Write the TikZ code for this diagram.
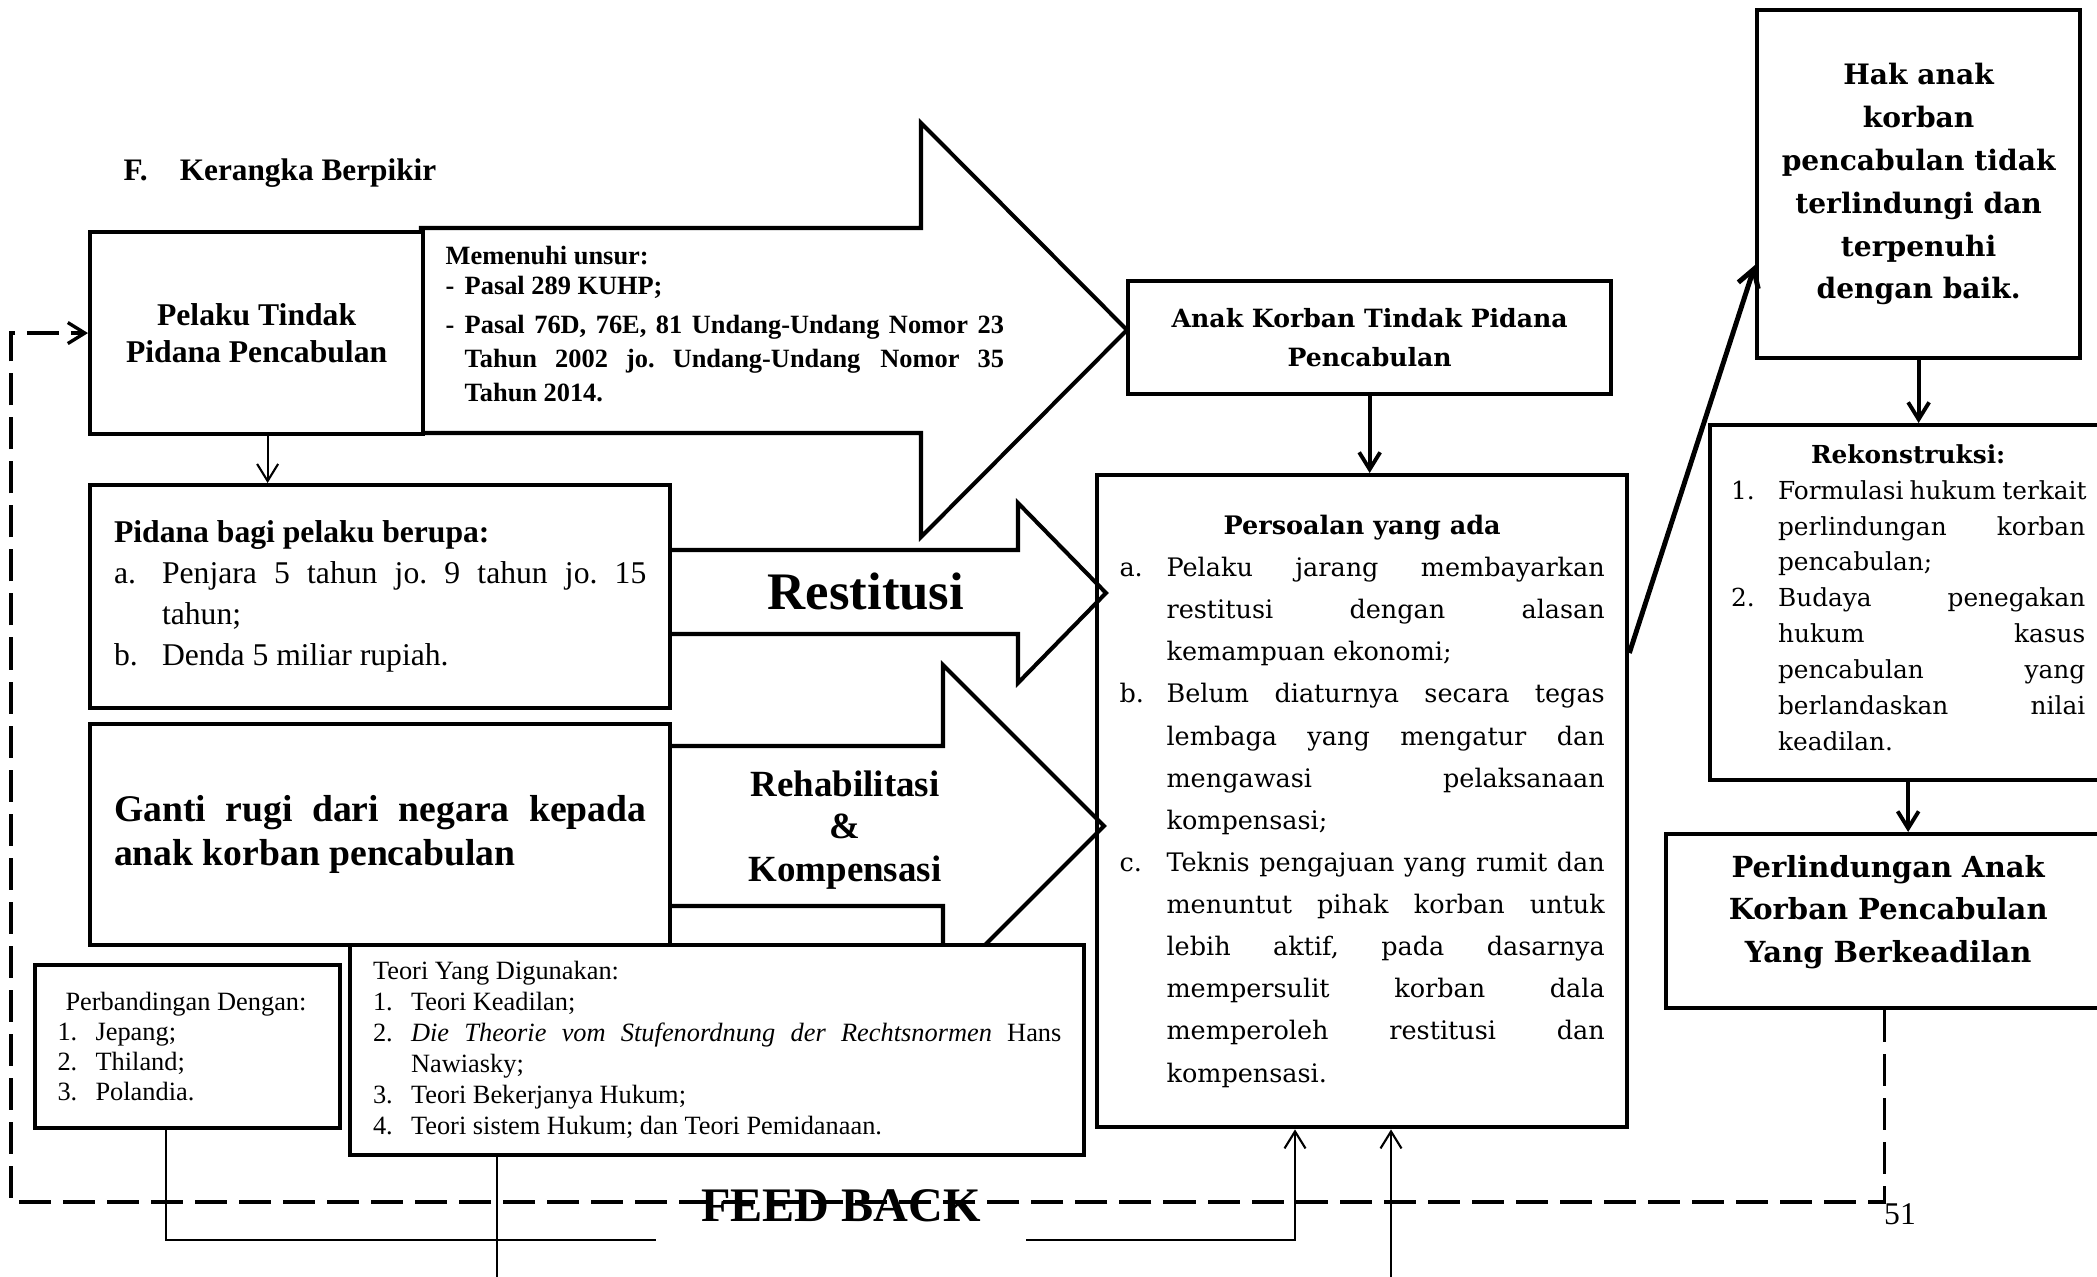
\documentclass[tikz,border=0pt]{standalone}
\usepackage{fontspec}
\setmainfont{Liberation Serif}
\newfontfamily\bkfont{DejaVu Serif}
\usetikzlibrary{arrows.meta,calc}

% one line of a list, stretched to the full width
\newcommand{\jline}[2][0pt]{\hbox to\linewidth{\frenchspacing\hskip#1\relax\spaceskip=.25em plus 1fil\relax\xspaceskip=\spaceskip#2}}
% last line of a paragraph, set flush left
\newcommand{\lline}[2][0pt]{\hbox to\linewidth{\hskip#1\relax#2\hfil}}
% centred line
\newcommand{\mline}[1]{\hbox to\linewidth{\hfil#1\hfil}}
% item label of fixed width
\newcommand{\lbl}[2]{\hbox to#1{#2\hfil}}
% lift a text block without changing its size
\newcommand{\lift}[2]{\raisebox{#1}[\height][\depth]{#2}}

\begin{document}
\begin{tikzpicture}[x=0.01cm, y=-0.01cm,
    box/.style={draw, line width=1.15pt, fill=white, anchor=north west, inner sep=0pt},
    blockarrow/.style={draw, line width=1.15pt, fill=white, line join=miter},
    link/.style={line width=0.6pt},
    boldlink/.style={line width=1.1pt},
    feedback/.style={line width=0.95pt, dash pattern=on 3.2mm off 1.2mm},
    >={Straight Barb[length=1.7mm,width=2.1mm]}]

    \useasboundingbox (0,0) rectangle (2097,1277);

    % Block arrows (drawn first, boxes sit on top)
    \draw[blockarrow] (421,228) -- (921,228) -- (921,123) -- (1127,330) -- (921,537) -- (921,433) -- (421,433) -- cycle;
    \draw[blockarrow] (667,550) -- (1018,550) -- (1018,503) -- (1106,593) -- (1018,683) -- (1018,634) -- (667,634) -- cycle;
    \draw[blockarrow] (667,746) -- (943,746) -- (943,665) -- (1104,826) -- (943,987) -- (943,906) -- (667,906) -- cycle;

    % Heading
    \node[anchor=base west, inner sep=0pt, font=\fontsize{8.9}{10}\selectfont\bfseries] (title) at (123,181) {F.\hspace{3.2mm}Kerangka Berpikir};

    % Left column
    \node[box, minimum width=3.33cm, minimum height=2.02cm, align=center, font=\fontsize{9}{10.5}\selectfont\bfseries] (pelaku) at (88,230) {Pelaku Tindak\\Pidana Pencabulan};

    \node[box, minimum width=5.80cm, minimum height=2.23cm, font=\fontsize{9}{11.7}\selectfont] (pidana) at (88,483) {\parbox{53.2mm}{%
        \lline{\bfseries Pidana bagi pelaku berupa:}
        \jline{\lbl{4.8mm}{a.}Penjara 5 tahun jo. 9 tahun jo. 15}
        \lline[4.8mm]{tahun;}
        \lline{\lbl{4.8mm}{b.}Denda 5 miliar rupiah.}}};

    \node[box, minimum width=5.80cm, minimum height=2.21cm, font=\fontsize{10.7}{12.5}\selectfont\bfseries] (ganti) at (88,722) {\parbox{53.2mm}{%
        \jline{Ganti rugi dari negara kepada}
        \lline{anak korban pencabulan}}};

    \node[box, minimum width=3.05cm, minimum height=1.63cm, font=\fontsize{7.5}{8.6}\selectfont] (perb) at (33,963) {\parbox{26mm}{%
        \lline[0.8mm]{Perbandingan Dengan:}
        \lline{\lbl{3.8mm}{1.}Jepang;}
        \lline{\lbl{3.8mm}{2.}Thiland;}
        \lline{\lbl{3.8mm}{3.}Polandia.}}};

    \node[box, minimum width=7.34cm, minimum height=2.10cm, font=\fontsize{7.5}{8.8}\selectfont] (teori) at (348,943) {\parbox{68.8mm}{%
        \lline{Teori Yang Digunakan:}
        \lline{\lbl{3.8mm}{1.}Teori Keadilan;}
        \jline{\lbl{3.8mm}{2.}\itshape Die Theorie vom Stufenordnung der Rechtsnormen \upshape Hans}
        \lline[3.8mm]{Nawiasky;}
        \lline{\lbl{3.8mm}{3.}Teori Bekerjanya Hukum;}
        \lline{\lbl{3.8mm}{4.}Teori sistem Hukum; dan Teori Pemidanaan.}}};

    % Texts in the block arrows
    \node[anchor=base west, inner sep=0pt, font=\fontsize{7.5}{9.67}\selectfont\bfseries] (unsur) at (445,265) {\parbox[t]{55.8mm}{%
        \lline{Memenuhi unsur:}\vskip-0.4mm\relax
        \lline{\lbl{1.9mm}{-}Pasal 289 KUHP;}\vskip0.4mm\relax
        \jline{\lbl{1.9mm}{-}Pasal 76D, 76E, 81 Undang-Undang Nomor 23}
        \jline[1.9mm]{Tahun 2002 jo. Undang-Undang\hskip2mm Nomor 35}
        \lline[1.9mm]{Tahun 2014.}}};
    \node[anchor=base, inner sep=0pt, font=\fontsize{15}{18}\selectfont\bfseries] (restitusi) at (866,610) {Restitusi};
    \node[align=center, inner sep=0pt, font=\fontsize{10.5}{12.1}\selectfont\bfseries] (rehab) at (845,830) {Rehabilitasi\\\&\\Kompensasi};

    % Middle column
    \node[box, minimum width=4.83cm, minimum height=1.13cm, align=center, font=\bkfont\fontsize{7.15}{11.1}\selectfont\bfseries] (anak) at (1126,279) {Anak Korban Tindak Pidana\\Pencabulan};

    \node[box, fill=none, minimum width=5.30cm, minimum height=6.52cm, font=\bkfont\fontsize{7.25}{11.98}\selectfont] (persoalan) at (1095,473) {\parbox{48.5mm}{%
        \mline{\bfseries Persoalan yang ada}
        \jline{\lbl{4.7mm}{a.}Pelaku jarang membayarkan}
        \jline[4.7mm]{restitusi dengan alasan}
        \lline[4.7mm]{kemampuan ekonomi;}
        \jline{\lbl{4.7mm}{b.}Belum diaturnya secara tegas}
        \jline[4.7mm]{lembaga yang mengatur dan}
        \jline[4.7mm]{mengawasi pelaksanaan}
        \lline[4.7mm]{kompensasi;}
        \jline{\lbl{4.7mm}{c.}Teknis pengajuan yang rumit dan}
        \jline[4.7mm]{menuntut pihak korban untuk}
        \jline[4.7mm]{lebih aktif, pada dasarnya}
        \jline[4.7mm]{mempersulit korban dala}
        \jline[4.7mm]{memperoleh restitusi dan}
        \lline[4.7mm]{kompensasi.}}};

    % Right column
    \node[box, minimum width=3.23cm, minimum height=3.48cm, align=center, font=\bkfont\fontsize{8}{12.2}\selectfont\bfseries] (hak) at (1755,8) {Hak anak\\korban\\pencabulan tidak\\terlindungi dan\\terpenuhi\\dengan baik.};

    \node[box, minimum width=3.96cm, minimum height=3.55cm, font=\bkfont\fontsize{7.05}{10.2}\selectfont] (rekon) at (1708,423) {\lift{0.5mm}{\parbox{35.4mm}{%
        \mline{\bfseries Rekonstruksi:}
        \jline{\lbl{4.7mm}{1.}Formulasi hukum terkait}
        \jline[4.7mm]{perlindungan korban}
        \lline[4.7mm]{pencabulan;}
        \jline{\lbl{4.7mm}{2.}Budaya penegakan}
        \jline[4.7mm]{hukum kasus}
        \jline[4.7mm]{pencabulan yang}
        \jline[4.7mm]{berlandaskan nilai}
        \lline[4.7mm]{keadilan.}}}};

    \node[box, minimum width=4.44cm, minimum height=1.74cm, font=\bkfont\fontsize{8.25}{12.1}\selectfont\bfseries] (perl) at (1664,832) {\lift{0.9mm}{\parbox{42mm}{%
        \mline{Perlindungan Anak}
        \mline{Korban Pencabulan}
        \mline{Yang Berkeadilan}}}};

    % Arrows between the boxes
    \coordinate (pdrop) at ($(pelaku.south)+(11,0)$);
    \draw[link, ->] (pdrop) -- (pdrop |- pidana.north);
    \draw[boldlink, ->] (anak.south) -- (anak.south |- persoalan.north);
    \draw[line width=1.4pt, ->] ($(persoalan.north east)+(0,180)$) -- ($(hak.north west)+(0,257)$);
    \draw[boldlink, ->] (hak.south) -- (hak.south |- rekon.north);
    \draw[boldlink, ->] (rekon.south) -- (rekon.south |- perl.north);

    % Thin lines along the bottom
    \coordinate (loopstart) at (166,1240);
    \coordinate (loopturn) at (1295,1240);
    \coordinate (teoriout) at (497,1290);
    \coordinate (bottomin) at (1391,1290);
    \draw[link, ->] (perb.south -| loopstart) |- (loopturn) -- (loopturn |- persoalan.south);
    \draw[link] (teori.south -| teoriout) -- (teoriout);
    \draw[link, ->] (bottomin) -- (bottomin |- persoalan.south);

    % Feed back loop
    \node[fill=white, inner sep=0pt, minimum width=3.7cm, minimum height=0.72cm, font=\fontsize{13.7}{15}\selectfont\bfseries] (feedbk) at (841,1206) {FEED BACK};
    \coordinate (fbcorner) at (11,1202);
    \draw[feedback, ->] ($(perl.south)+(-4,0)$) |- (fbcorner) |- (pelaku.west);

    % Page number
    \node[inner sep=0pt, font=\fontsize{9}{10}\selectfont] (pagenum) at (1900,1214) {51};

\end{tikzpicture}
\end{document}
